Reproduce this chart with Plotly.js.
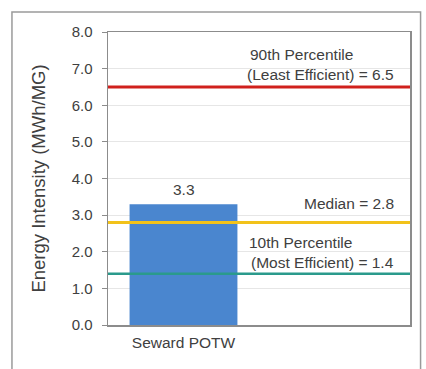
<!DOCTYPE html>
<html>
<head>
<meta charset="utf-8">
<script src="https://cdn.plot.ly/plotly-3.0.1.min.js"></script>
<style>
  html, body { margin: 0; padding: 0; background: #fff; }
  #chart { width: 426px; height: 369px; }
</style>
</head>
<body>
<div id="chart"></div>
<script>
// Facility energy intensity compared with benchmark percentiles
const categories = ["Seward POTW"];
const intensity = [3.3];

const benchmarkValues = [6.5, 2.8, 1.4];
const benchmarkColors = ["#d0201c", "#f2c21a", "#2a9a8c"];
const benchmarkWidths = [3, 3, 2.5];

const yTickVals = [0, 1, 2, 3, 4, 5, 6, 7, 8];
const yTickText = ["0.0", "1.0", "2.0", "3.0", "4.0", "5.0", "6.0", "7.0", "8.0"];

const fontFamily = "Liberation Sans, Arial, sans-serif";
const textFont = { family: fontFamily, size: 15.5, color: "#404040" };
const tickFont = { family: fontFamily, size: 15, color: "#404040" };

const bar = {
  type: "bar",
  x: categories,
  y: intensity,
  width: 0.7,
  marker: { color: "#4a86cf" },
  hoverinfo: "skip"
};

// Horizontal benchmark lines spanning the plot width
const shapes = benchmarkValues.map((v, i) => ({
  type: "line",
  xref: "paper", yref: "y",
  x0: 0, x1: 1, y0: v, y1: v,
  line: { color: benchmarkColors[i], width: benchmarkWidths[i] },
  layer: "above"
}));

// Outer chart frame
shapes.push({
  type: "rect", xref: "paper", yref: "paper",
  x0: -0.318, x1: 1.035, y0: -0.2, y1: 1.068,
  line: { color: "#9a9a9a", width: 1.5 },
  layer: "below"
});

const fmt = v => v.toFixed(1);

const annotations = [
  { xref: "paper", yref: "y", x: 0.64, y: benchmarkValues[0], yshift: 32,
    text: "90th Percentile", showarrow: false, xanchor: "center", font: textFont },
  { xref: "paper", yref: "y", x: 0.955, y: benchmarkValues[0], yshift: 12,
    text: "(Least Efficient) = " + fmt(benchmarkValues[0]), showarrow: false, xanchor: "right", font: textFont },
  { xref: "x", yref: "y", x: categories[0], y: intensity[0], yshift: 15,
    text: fmt(intensity[0]), showarrow: false, xanchor: "center", font: textFont },
  { xref: "paper", yref: "y", x: 0.955, y: benchmarkValues[1], yshift: 19,
    text: "Median = " + fmt(benchmarkValues[1]), showarrow: false, xanchor: "right", font: textFont },
  { xref: "paper", yref: "y", x: 0.46, y: benchmarkValues[2], yshift: 31,
    text: "10th Percentile", showarrow: false, xanchor: "left", font: textFont },
  { xref: "paper", yref: "y", x: 0.955, y: benchmarkValues[2], yshift: 11,
    text: "(Most Efficient) = " + fmt(benchmarkValues[2]), showarrow: false, xanchor: "right", font: textFont }
];

const layout = {
  width: 426, height: 369,
  margin: { l: 108, r: 16, t: 32, b: 44 },
  paper_bgcolor: "#ffffff",
  plot_bgcolor: "#ffffff",
  showlegend: false,
  font: textFont,
  xaxis: {
    type: "category",
    range: [-0.49, 1.47],
    showgrid: false,
    showline: true, mirror: true,
    linecolor: "#8c8c8c", linewidth: 1.5,
    ticks: "",
    ticklabelstandoff: 3,
    tickfont: textFont,
    fixedrange: true
  },
  yaxis: {
    range: [0, 8],
    tickvals: yTickVals,
    ticktext: yTickText,
    ticks: "outside", ticklen: 5, tickcolor: "#8c8c8c",
    ticklabelstandoff: 6,
    showgrid: true, gridcolor: "#e6e6e6", gridwidth: 1,
    zeroline: false,
    showline: true, mirror: true,
    linecolor: "#8c8c8c", linewidth: 1.5,
    tickfont: tickFont,
    title: { text: "Energy Intensity (MWh/MG)", font: { family: fontFamily, size: 18.5, color: "#404040" }, standoff: 21 },
    fixedrange: true
  },
  shapes: shapes,
  annotations: annotations
};

Plotly.newPlot("chart", [bar], layout, { staticPlot: true, displayModeBar: false });
</script>
</body>
</html>
